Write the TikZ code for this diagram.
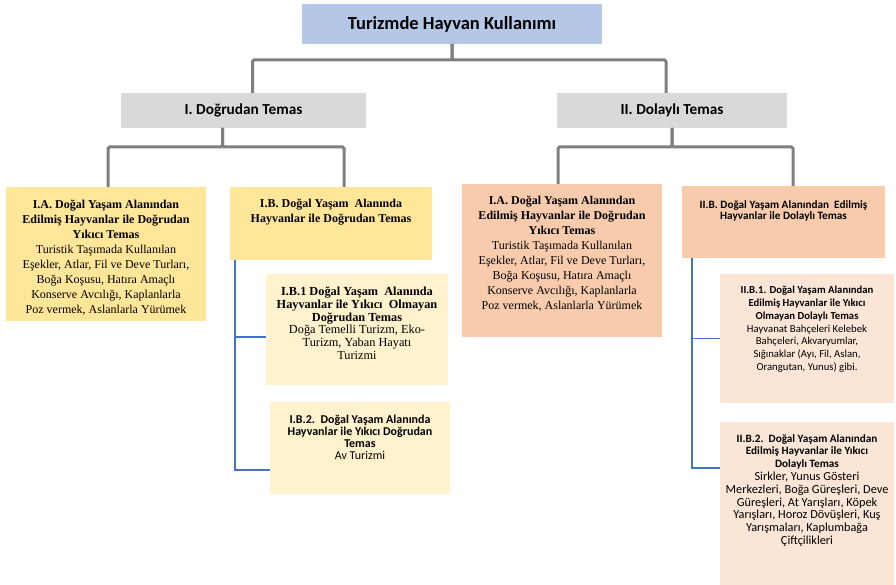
\documentclass[tikz,border=0pt]{standalone}
\usepackage{fontspec}
\setmainfont{Liberation Serif}
\newfontfamily\carlito{Carlito}
\usetikzlibrary{positioning}

\definecolor{topblue}{HTML}{B4C7E7}
\definecolor{midgray}{HTML}{D9D9D9}
\definecolor{ygold}{HTML}{FFE699}
\definecolor{ylight}{HTML}{FFF2CC}
\definecolor{orpeach}{HTML}{F8CBAD}
\definecolor{orlight}{HTML}{FBE5D6}
\definecolor{linegray}{HTML}{7F7F7F}
\definecolor{lineblue}{HTML}{4472C4}

\newcommand\smallhead[1]{\textbf{\fontsize{11.2}{12.8}\selectfont #1}}

\tikzset{
  box/.style={anchor=north west, inner sep=0pt, outer sep=0pt},
  headtxt/.style={anchor=north, inner sep=0pt, align=center},
  serifbig/.style={headtxt, font=\fontsize{12}{15}\selectfont},
  serifsmall/.style={headtxt, font=\fontsize{12.3}{12.7}\selectfont},
  sanssmall/.style={headtxt, font=\carlito\fontsize{10.7}{12.8}\selectfont},
  trunk/.style={draw=linegray, line width=3pt, rounded corners=1.5pt},
  branch/.style={draw=lineblue, line width=1.6pt}
}

\begin{document}
\begin{tikzpicture}[x=1pt, y=-1pt]
    \useasboundingbox (0,0) rectangle (896,585);

    % top and second level
    \node[box, fill=topblue, minimum width=300pt, minimum height=40pt,
          font=\carlito\bfseries\fontsize{18.5}{21}\selectfont] (top) at (302,4) {Turizmde Hayvan Kullanımı};
    \node[box, fill=midgray, minimum width=245pt, minimum height=35pt,
          font=\carlito\bfseries\fontsize{15.3}{18}\selectfont] (dog) at (121,93) {I. Doğrudan Temas};
    \node[box, fill=midgray, minimum width=230pt, minimum height=35pt,
          font=\carlito\bfseries\fontsize{15.3}{18}\selectfont] (dol) at (557,93) {II. Dolaylı Temas};

    % direct contact
    \node[box, fill=ygold, minimum width=200pt, minimum height=134pt] (ia) at (6,187) {};
    \node[serifbig] (ia text) at ([yshift=-13pt]ia.north)
      {\textbf{I.A. Doğal Yaşam Alanından}\\ \textbf{Edilmiş Hayvanlar ile Doğrudan}\\ \textbf{Yıkıcı Temas}\\
       Turistik Taşımada Kullanılan\\ Eşekler, Atlar, Fil ve Deve Turları,\\ Boğa Koşusu, Hatıra Amaçlı\\
       Konserve Avcılığı, Kaplanlarla\\ Poz vermek, Aslanlarla Yürümek};

    \node[box, fill=ygold, minimum width=202pt, minimum height=73pt] (ib) at (230,187) {};
    \node[serifbig] (ib text) at ([yshift=-12pt]ib.north)
      {\textbf{I.B. Doğal Yaşam\ \ Alanında}\\ \textbf{Hayvanlar ile Doğrudan Temas}};

    \node[box, fill=ylight, minimum width=182pt, minimum height=111pt] (ib1) at (266,274) {};
    \node[serifsmall] (ib1 text) at ([yshift=-13pt]ib1.north)
      {\textbf{I.B.1 Doğal Yaşam\ \ Alanında}\\ \textbf{Hayvanlar ile Yıkıcı\ \ Olmayan}\\ \textbf{Doğrudan Temas}\\
       Doğa Temelli Turizm, Eko-\\ Turizm, Yaban Hayatı\\ Turizmi};

    \node[box, fill=ylight, minimum width=180pt, minimum height=92pt] (ib2) at (270,402) {};
    \node[sanssmall, font=\carlito\fontsize{12}{11.8}\selectfont] (ib2 text) at ([yshift=-13pt]ib2.north)
      {\textbf{I.B.2.\ \ Doğal Yaşam Alanında}\\ \textbf{Hayvanlar ile Yıkıcı Doğrudan}\\ \textbf{Temas}\\ Av Turizmi};

    % indirect contact
    \node[box, fill=orpeach, minimum width=200pt, minimum height=153pt] (iia) at (462,184) {};
    \node[serifbig] (iia text) at ([yshift=-12pt]iia.north)
      {\textbf{I.A. Doğal Yaşam Alanından}\\ \textbf{Edilmiş Hayvanlar ile Doğrudan}\\ \textbf{Yıkıcı Temas}\\
       Turistik Taşımada Kullanılan\\ Eşekler, Atlar, Fil ve Deve Turları,\\ Boğa Koşusu, Hatıra Amaçlı\\
       Konserve Avcılığı, Kaplanlarla\\ Poz vermek, Aslanlarla Yürümek};

    \node[box, fill=orpeach, minimum width=203pt, minimum height=72pt] (iib) at (682,186) {};
    \node[sanssmall, font=\carlito\fontsize{11.2}{11.7}\selectfont] (iib text) at ([yshift=-14pt]iib.north)
      {\textbf{II.B. Doğal Yaşam Alanından\ \ Edilmiş}\\ \textbf{Hayvanlar ile Dolaylı Temas}};

    \node[box, fill=orlight, minimum width=174pt, minimum height=129pt] (iib1) at (720,274) {};
    \node[sanssmall] (iib1 text) at ([yshift=-12pt]iib1.north)
      {\textbf{II.B.1. Doğal Yaşam Alanından}\\ \textbf{Edilmiş Hayvanlar ile Yıkıcı}\\ \textbf{Olmayan Dolaylı Temas}\\
       Hayvanat Bahçeleri Kelebek\\ Bahçeleri, Akvaryumlar,\\ Sığınaklar (Ayı, Fil, Aslan,\\ Orangutan, Yunus) gibi.};

    \node[box, fill=orlight, minimum width=174pt, minimum height=163pt] (iib2) at (720,422) {};
    \node[sanssmall, font=\carlito\fontsize{12.3}{12.8}\selectfont] (iib2 text) at ([yshift=-12pt]iib2.north)
      {\smallhead{II.B.2.\ \ Doğal Yaşam Alanından}\\ \smallhead{Edilmiş Hayvanlar ile Yıkıcı}\\ \smallhead{Dolaylı Temas}\\
       Sirkler, Yunus Gösteri\\ Merkezleri, Boğa Güreşleri, Deve\\ Güreşleri, At Yarışları, Köpek\\
       Yarışları, Horoz Dövüşleri, Kuş\\ Yarışmaları, Kaplumbağa\\ Çiftçilikleri};

    % gray tree
    \draw[trunk] (top.south) -- ++(0,16) -| ([xshift=9pt]dog.north);
    \draw[trunk] (top.south) -- ++(0,16) -| ([xshift=-6pt]dol.north);
    \draw[trunk] ([xshift=-21pt]dog.south) -- ++(0,19) -| ([xshift=2pt]ia.north);
    \draw[trunk] ([xshift=-21pt]dog.south) -- ++(0,19) -| ([xshift=13pt]ib.north);
    \draw[trunk] (dol.south) -- ++(0,19) -| ([xshift=-4pt]iia.north);
    \draw[trunk] (dol.south) -- ++(0,19) -| ([xshift=9.5pt]iib.north);

    % blue brackets
    \draw[branch] ([xshift=5pt]ib.south west) |- ([yshift=-7.5pt]ib1.west);
    \draw[branch] ([xshift=5pt]ib.south west) |- ([yshift=-22pt]ib2.west);
    \draw[branch] ([xshift=10pt]iib.south west) |- (iib1.west);
    \draw[branch] ([xshift=10pt]iib.south west) |- ([yshift=35.5pt]iib2.west);
\end{tikzpicture}
\end{document}
